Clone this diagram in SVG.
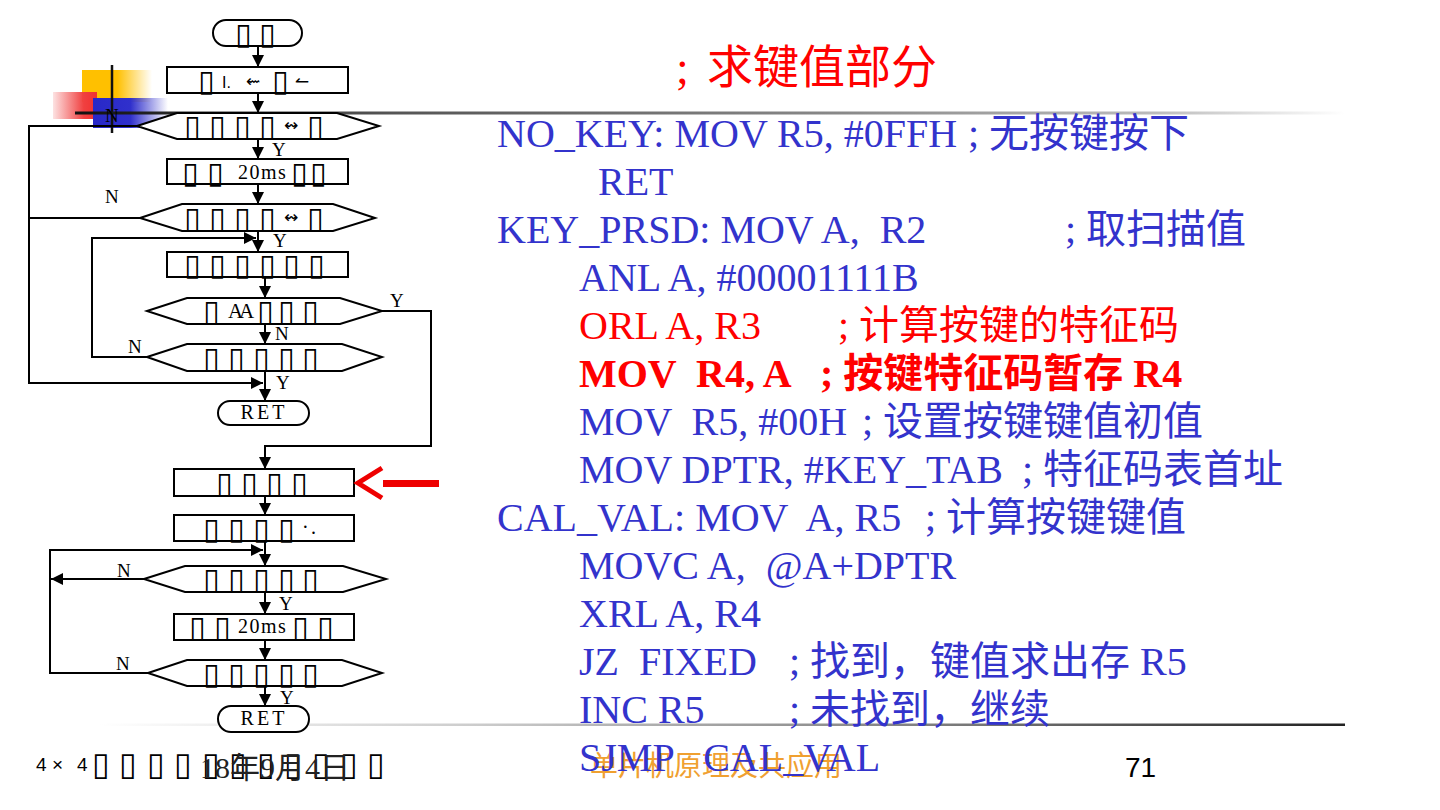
<svg xmlns="http://www.w3.org/2000/svg" width="1440" height="810" viewBox="0 0 1440 810">
<style>
.fc{fill:#fff;stroke:#000;stroke-width:2}
.cn{fill:none;stroke:#000;stroke-width:2}
.tofu{font-family:"DejaVu Sans",sans-serif;font-size:30px;fill:#000}
.sym{font-family:"DejaVu Sans",sans-serif;font-size:17px;fill:#000}
.lbl{font-family:"Liberation Serif",serif;font-size:19px;fill:#000}
.code{font-family:"Liberation Serif","Noto Sans CJK SC",serif;font-size:40px;fill:#3333CC;white-space:pre}
.red{fill:#FF0000}
.bold{font-weight:bold}
</style>
<defs>
<marker id="ah" viewBox="0 0 10 10" refX="10" refY="5" markerWidth="12" markerHeight="12" markerUnits="userSpaceOnUse" orient="auto"><path d="M0,0 L10,5 L0,10 z" fill="#000"/></marker>
<linearGradient id="gTop" gradientUnits="userSpaceOnUse" x1="75" y1="0" x2="1345" y2="0"><stop offset="0" stop-color="#111"/><stop offset="0.25" stop-color="#555"/><stop offset="0.6" stop-color="#888"/><stop offset="0.85" stop-color="#bbb"/><stop offset="1" stop-color="#fff"/></linearGradient>
<linearGradient id="gBot" gradientUnits="userSpaceOnUse" x1="100" y1="0" x2="1345" y2="0"><stop offset="0" stop-color="#fff"/><stop offset="0.3" stop-color="#ccc"/><stop offset="0.7" stop-color="#777"/><stop offset="1" stop-color="#222"/></linearGradient>
<linearGradient id="gY" x1="0" y1="0" x2="1" y2="0"><stop offset="0" stop-color="#FFC000"/><stop offset="0.5" stop-color="#FFC000"/><stop offset="1" stop-color="#FFC000" stop-opacity="0"/></linearGradient>
<linearGradient id="gR" x1="0" y1="0" x2="1" y2="0"><stop offset="0" stop-color="#F04040" stop-opacity="0.15"/><stop offset="0.7" stop-color="#F04040"/><stop offset="1" stop-color="#F03030"/></linearGradient>
<linearGradient id="gB" x1="0" y1="0" x2="1" y2="0"><stop offset="0" stop-color="#2828C8"/><stop offset="0.5" stop-color="#3030CC"/><stop offset="1" stop-color="#3030CC" stop-opacity="0"/></linearGradient>
</defs>
<rect width="1440" height="810" fill="#fff"/>
<g id="decoration">
<rect x="82" y="70" width="70" height="32" fill="url(#gY)"/>
<rect x="53" y="92" width="44" height="27" fill="url(#gR)"/>
<rect x="93" y="98" width="75" height="30" fill="url(#gB)"/>
<line x1="112" y1="65" x2="112" y2="133" stroke="#111" stroke-width="2.5"/>
<rect x="75" y="111.5" width="1270" height="3" fill="url(#gTop)"/>
<rect x="100" y="723.5" width="1245" height="2.5" fill="url(#gBot)"/>
</g>
<g id="connectors">
<line class="cn" x1="258" y1="46" x2="258" y2="67" marker-end="url(#ah)"/>
<line class="cn" x1="258" y1="93" x2="258" y2="113" marker-end="url(#ah)"/>
<line class="cn" x1="258" y1="139" x2="258" y2="159" marker-end="url(#ah)"/>
<line class="cn" x1="258" y1="184" x2="258" y2="204" marker-end="url(#ah)"/>
<line class="cn" x1="258" y1="231" x2="258" y2="252" marker-end="url(#ah)"/>
<line class="cn" x1="265" y1="277" x2="265" y2="298" marker-end="url(#ah)"/>
<line class="cn" x1="265" y1="324" x2="265" y2="344" marker-end="url(#ah)"/>
<line class="cn" x1="265" y1="371" x2="265" y2="401" marker-end="url(#ah)"/>
<polyline class="cn" points="137,126 29,126 29,383 263,383" marker-end="url(#ah)"/>
<line class="cn" x1="140" y1="218" x2="29" y2="218"/>
<polyline class="cn" points="147,357 92,357 92,238 256,238" marker-end="url(#ah)"/>
<polyline class="cn" points="382,311 431,311 431,446 265,446 265,469" marker-end="url(#ah)"/>
<line class="cn" x1="265" y1="496" x2="265" y2="515" marker-end="url(#ah)"/>
<line class="cn" x1="265" y1="541" x2="265" y2="566" marker-end="url(#ah)"/>
<line class="cn" x1="144" y1="579" x2="51" y2="579" marker-end="url(#ah)"/>
<line class="cn" x1="265" y1="592" x2="265" y2="614" marker-end="url(#ah)"/>
<line class="cn" x1="265" y1="640" x2="265" y2="660" marker-end="url(#ah)"/>
<polyline class="cn" points="148,673 50,673 50,550 263,550" marker-end="url(#ah)"/>
<line class="cn" x1="265" y1="686" x2="265" y2="706" marker-end="url(#ah)"/>
</g>
<g id="labels">
<text class="lbl" x="105" y="122">N</text>
<text class="lbl" x="272" y="156">Y</text>
<text class="lbl" x="105" y="203">N</text>
<text class="lbl" x="273" y="247">Y</text>
<text class="lbl" x="390" y="307">Y</text>
<text class="lbl" x="275" y="340">N</text>
<text class="lbl" x="128" y="353">N</text>
<text class="lbl" x="276" y="389">Y</text>
<text class="lbl" x="117" y="577">N</text>
<text class="lbl" x="279" y="610">Y</text>
<text class="lbl" x="116" y="670">N</text>
<text class="lbl" x="280" y="704">Y</text>
</g>
<g id="n-start">
<rect class="fc" x="213" y="20" width="89" height="26" rx="13"/>
<text class="tofu" x="235 259" y="44">▯▯</text>
</g>
<g id="n-r2">
<rect class="fc" x="167" y="67" width="181" height="26"/>
<text class="tofu" x="198" y="91">▯</text>
<text x="222" y="88" font-family="Liberation Sans,sans-serif" font-size="16">I.</text>
<text class="sym" x="246" y="87">⇜</text>
<text class="tofu" x="272" y="91">▯</text>
<text class="sym" x="295" y="87">↼</text>
</g>
<g id="n-h1">
<polygon class="fc" points="137,126 177,113 337,113 379,126 337,139 177,139"/>
<text class="tofu" x="184 209 234 259" y="136">▯▯▯▯</text>
<text class="sym" x="284" y="131">↭</text>
<text class="tofu" x="307" y="136">▯</text>
</g>
<g id="n-r3">
<rect class="fc" x="167" y="159" width="181" height="25"/>
<text class="tofu" x="182 207" y="183">▯▯</text>
<text class="lbl" x="238" y="179" style="font-size:20px" letter-spacing="1.5">20ms</text>
<text class="tofu" x="291 310" y="183">▯▯</text>
</g>
<g id="n-h2">
<polygon class="fc" points="140,218 182,204 333,204 375,218 333,231 182,231"/>
<text class="tofu" x="184 209 234 259" y="228">▯▯▯▯</text>
<text class="sym" x="284" y="223">↭</text>
<text class="tofu" x="307" y="228">▯</text>
</g>
<g id="n-r4">
<rect class="fc" x="167" y="252" width="181" height="25"/>
<text class="tofu" x="184 209 234 259 283 308" y="275">▯▯▯▯▯▯</text>
</g>
<g id="n-h3">
<polygon class="fc" points="147,311 187,298 340,298 382,311 340,324 187,324"/>
<text class="tofu" x="203" y="321">▯</text>
<text class="lbl" x="228 239" y="318" style="font-size:21px">AA</text>
<text class="tofu" x="257 278 302" y="321">▯▯▯</text>
</g>
<g id="n-h4">
<polygon class="fc" points="147,357 187,344 342,344 382,357 342,371 187,371"/>
<text class="tofu" x="203 228 253 278 302" y="368">▯▯▯▯▯</text>
</g>
<g id="n-ret1">
<rect class="fc" x="218" y="401" width="91" height="24" rx="12"/>
<text class="lbl" x="264" y="419" text-anchor="middle" letter-spacing="3" style="font-size:20px">RET</text>
</g>
<g id="n-r5">
<rect class="fc" x="174" y="469" width="180" height="27"/>
<text class="tofu" x="216 241 266 291" y="493">▯▯▯▯</text>
</g>
<g id="pointer">
<polyline points="382,468 358,483 382,498" fill="none" stroke="#EE0000" stroke-width="5"/>
<rect x="383" y="480" width="56" height="7" fill="#EE0000"/>
</g>
<g id="n-r6">
<rect class="fc" x="174" y="515" width="180" height="26"/>
<text class="tofu" x="203 228 253 278" y="539">▯▯▯▯</text>
<text class="lbl" x="302 311" y="534" style="font-size:20px">·.</text>
</g>
<g id="n-h5">
<polygon class="fc" points="144,579 185,566 343,566 386,579 343,592 185,592"/>
<text class="tofu" x="203 228 253 278 302" y="589">▯▯▯▯▯</text>
</g>
<g id="n-r7">
<rect class="fc" x="174" y="614" width="180" height="26"/>
<text class="tofu" x="189 214" y="637">▯▯</text>
<text class="lbl" x="238" y="633" style="font-size:20px" letter-spacing="1.5">20ms</text>
<text class="tofu" x="292 317" y="637">▯▯</text>
</g>
<g id="n-h6">
<polygon class="fc" points="148,673 187,660 342,660 382,673 342,686 187,686"/>
<text class="tofu" x="203 228 253 278 302" y="684">▯▯▯▯▯</text>
</g>
<g id="n-ret2">
<rect class="fc" x="218" y="706" width="91" height="26" rx="13"/>
<text class="lbl" x="264" y="725" text-anchor="middle" letter-spacing="3" style="font-size:20px">RET</text>
</g>
<g id="footer">
<text x="36 52 77" y="771" font-family="Liberation Sans,sans-serif" font-size="19">4×4</text>
<text class="tofu" x="92 119 147 174 202 229 257 284 312 340 367" y="775" style="font-size:32px">▯▯▯▯▯▯▯▯▯▯▯</text>
<text x="200" y="778" font-family="Liberation Serif,'Noto Sans CJK SC',serif" font-size="30" fill="#222">18年9月4日</text>
<text x="590" y="776" font-family="'Noto Sans CJK SC',sans-serif" font-size="28" fill="#F0A030">单片机原理及共应用</text>
<text x="1125" y="777" font-family="Liberation Sans,sans-serif" font-size="28" fill="#000">71</text>
</g>
<g id="code">
<text class="code red" x="676" y="83" style="font-size:46px">;<tspan x="707">求键值部分</tspan></text>
<text class="code" xml:space="preserve" x="497" y="147">NO_KEY: MOV R5, #0FFH<tspan x="968">; 无按键按下</tspan></text>
<text class="code" x="598" y="195">RET</text>
<text class="code" xml:space="preserve" x="497" y="243">KEY_PRSD: MOV A,  R2<tspan x="1065">; 取扫描值</tspan></text>
<text class="code" xml:space="preserve" x="579" y="291">ANL A, #00001111B</text>
<text class="code red" xml:space="preserve" x="579" y="339">ORL A, R3<tspan x="838">; 计算按键的特征码</tspan></text>
<text class="code red bold" xml:space="preserve" x="579" y="387">MOV  R4, A<tspan x="820">; 按键特征码暂存 R4</tspan></text>
<text class="code" xml:space="preserve" x="579" y="435">MOV  R5, #00H<tspan x="862">; 设置按键键值初值</tspan></text>
<text class="code" xml:space="preserve" x="579" y="483">MOV DPTR, #KEY_TAB<tspan x="1022">; 特征码表首址</tspan></text>
<text class="code" xml:space="preserve" x="497" y="531">CAL_VAL: MOV  A, R5<tspan x="925">; 计算按键键值</tspan></text>
<text class="code" xml:space="preserve" x="579" y="579">MOVC A,  @A+DPTR</text>
<text class="code" xml:space="preserve" x="579" y="627">XRL A, R4</text>
<text class="code" xml:space="preserve" x="579" y="675">JZ  FIXED<tspan x="789">; 找到，键值求出存 R5</tspan></text>
<text class="code" xml:space="preserve" x="579" y="723">INC R5<tspan x="789">; 未找到，继续</tspan></text>
<text class="code" xml:space="preserve" x="579" y="771">SJMP   CAL_VAL</text>
</g>
</svg>
